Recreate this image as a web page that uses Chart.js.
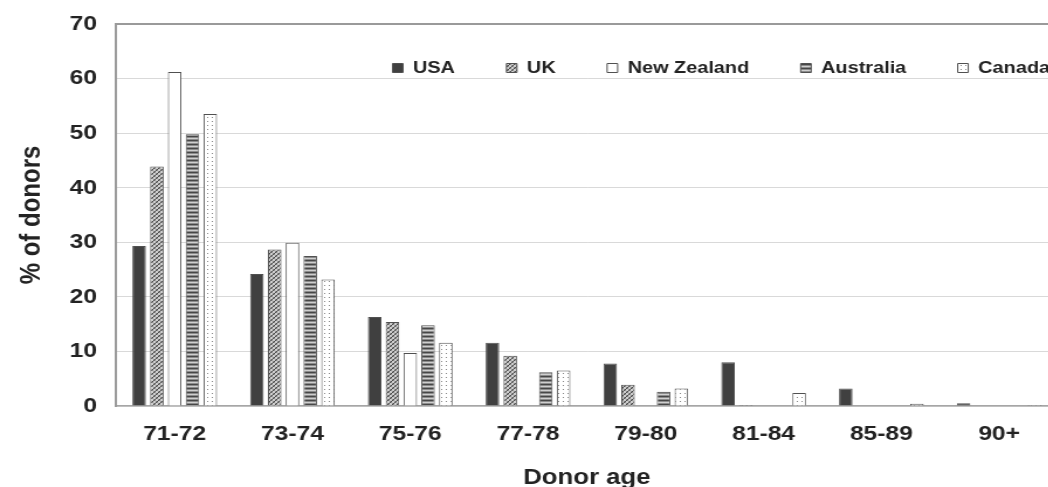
<!DOCTYPE html>
<html><head><meta charset="utf-8">
<script src="https://cdn.jsdelivr.net/npm/chart.js@4.4.1/dist/chart.umd.min.js"></script>
<style>
html,body{margin:0;padding:0;background:#fff;overflow:hidden;width:1048px;height:487px;}
#wrap{position:absolute;left:0;top:0;width:915px;height:487px;transform:scaleX(1.17);transform-origin:0 0;}
</style></head><body>
<div id="wrap"><canvas id="c" width="915" height="487"></canvas></div>
<script>
const categories = ['71-72','73-74','75-76','77-78','79-80','81-84','85-89','90+'];
const seriesNames = ['USA','UK','New Zealand','Australia','Canada'];
const usa        = [29.3, 24.2, 16.3, 11.6, 7.8, 8.0, 3.2, 0.5];
const uk         = [43.9, 28.7, 15.4,  9.2, 3.9, 0.2, 0,   0];
const newZealand = [61.2, 29.9,  9.7,  0,   0,   0,   0,   0];
const australia  = [49.8, 27.5, 14.8,  6.2, 2.6, 0,   0,   0];
const canada     = [53.5, 23.2, 11.6,  6.5, 3.2, 2.4, 0.4, 0.2];
const yTicks = [0,10,20,30,40,50,60,70];

const canvas = document.getElementById('c');
const mainCtx = canvas.getContext('2d');
function makePattern(w,h,draw){
  const c=document.createElement('canvas'); c.width=w; c.height=h;
  const g=c.getContext('2d'); draw(g);
  return mainCtx.createPattern(c,'repeat');
}
const ukPattern = makePattern(4,4,g=>{
  g.fillStyle='#cfcfcf'; g.fillRect(0,0,4,4);
  g.fillStyle='#474747';
  for(let i=0;i<4;i++){ g.fillRect(i,3-i,1,1); }
  g.fillStyle='#8f8f8f';
  for(let i=0;i<4;i++){ g.fillRect(i,i,1,1); }
});
const ausPattern = makePattern(1,4,g=>{
  const rows=['#474747','#8c8c8c','#cfcfcf','#8c8c8c'];
  rows.forEach((c,i)=>{g.fillStyle=c; g.fillRect(0,i,1,1);});
});
const canPattern = makePattern(4,4,g=>{
  g.fillStyle='#ffffff'; g.fillRect(0,0,4,4);
  g.fillStyle='#8a8a8a'; g.fillRect(1,1,1,1);
});

const fills = ['#404040', ukPattern, '#ffffff', ausPattern, canPattern];
const values = [usa, uk, newZealand, australia, canada];

const legendPlace = {
  id:'legendPlace',
  afterLayout(chart){
    const lg = chart.legend, ca = chart.chartArea;
    lg.left = ca.left + 192.5;
    lg.top = ca.top - 8.5;
    lg.right = chart.width + 400;
    lg.bottom = ca.top + 60;
    lg.width = lg.right - lg.left;
    lg.height = lg.bottom - lg.top;
  }
};

const FONT = "'Liberation Sans', Arial, sans-serif";

new Chart(canvas, {
  type:'bar',
  data:{
    labels: categories,
    datasets: seriesNames.map((n,i)=>({
      label:n, data: values[i], backgroundColor: fills[i],
      borderColor:'#505050', borderWidth:1,
      categoryPercentage:0.755, barPercentage:0.76
    }))
  },
  options:{
    responsive:false, animation:false,
    layout:{autoPadding:false, padding:{left:0,right:10.7,top:23,bottom:0}},
    plugins:{
      tooltip:{enabled:false},
      legend:{
        position:'top', align:'start', maxHeight:1,
        labels:{boxWidth:9, boxHeight:9, padding:44, color:'#222',
          font:{family:FONT, size:17, weight:'bold'}}
      }
    },
    scales:{
      x:{
        grid:{display:false, drawTicks:false},
        border:{display:true,color:'#a6a6a6',width:1.5},
        ticks:{color:'#222',padding:16,font:{family:FONT,size:21,weight:'bold'}},
        title:{display:true,text:'Donor age',color:'#222',
          font:{family:FONT,size:22,weight:'bold'},padding:{top:1.4,bottom:-4}}
      },
      y:{
        min:0,max:70,
        afterBuildTicks: ax => { ax.ticks = yTicks.map(v=>({value:v})); },
        grid:{drawTicks:false,
          color: c => (c.tick && c.tick.value===70) ? '#9a9a9a' : '#d9d9d9',
          lineWidth: c => (c.tick && c.tick.value===70) ? 2 : 1},
        border:{display:true,color:'#9a9a9a',width:2},
        ticks:{color:'#222',padding:16,font:{family:FONT,size:21,weight:'bold',lineHeight:0.7}},
        title:{display:true,text:'% of donors',color:'#222',
          font:{family:FONT,size:24,weight:'bold'},padding:{top:13,bottom:1.8}}
      }
    }
  },
  plugins:[legendPlace]
});
</script>
</body></html>
